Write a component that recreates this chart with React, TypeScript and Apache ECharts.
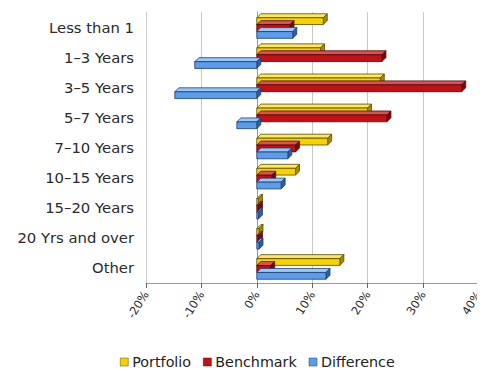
import React, { useEffect, useRef } from "react";
import * as echarts from "echarts";

const categories = [
  "Less than 1",
  "1–3 Years",
  "3–5 Years",
  "5–7 Years",
  "7–10 Years",
  "10–15 Years",
  "15–20 Years",
  "20 Yrs and over",
  "Other",
];
const portfolio = [12, 11.5, 22.3, 20, 12.8, 7, 0.3, 0.4, 15];
const benchmark = [6, 22.6, 37, 23.5, 7, 2.7, 0.3, 0.3, 2.5];
const difference = [6.5, -11.2, -14.8, -3.6, 5.6, 4.4, 0.3, 0.4, 12.5];
const xTicks = { min: -20, max: 40, interval: 10 };

const seriesDefs = [
  { name: "Portfolio", data: portfolio, front: "#f6d300", top: "#fbe865", side: "#a48c00", stroke: "#5a4a00" },
  { name: "Benchmark", data: benchmark, front: "#c40f14", top: "#de5054", side: "#780a0d", stroke: "#4a0a0a" },
  { name: "Difference", data: difference, front: "#5a9ded", top: "#9cc8f6", side: "#2d5fa3", stroke: "#1e3d6e" },
];

export default function App() {
  const ref = useRef<HTMLDivElement>(null);
  useEffect(() => {
    if (!ref.current) return;
    const chart = echarts.init(ref.current, null, { renderer: "svg" });
    const DX = 4;
    const DY = -4;
    const makeRender = (s: number) => (params: any, api: any) => {
      const val = api.value(0);
      const idx = api.value(1);
      const band = api.size([0, 1])[1];
      const h = band * 0.225;
      const p0 = api.coord([0, idx]);
      const p1 = api.coord([val, idx]);
      const def = seriesDefs[s];
      const yTop = p0[1] + (s - 1) * h * 1.02 - h / 2 + 1;
      const xa = Math.min(p0[0], p1[0]);
      const xb = Math.max(p0[0], p1[0]);
      const w = Math.max(xb - xa, 1.5);
      const xe = xa + w;
      const lw = 0.8;
      return {
        type: "group",
        children: [
          {
            type: "polygon",
            shape: { points: [[xa, yTop], [xa + DX, yTop + DY], [xe + DX, yTop + DY], [xe, yTop]] },
            style: { fill: def.top, stroke: def.stroke, lineWidth: lw },
          },
          {
            type: "polygon",
            shape: { points: [[xe, yTop], [xe + DX, yTop + DY], [xe + DX, yTop + h + DY], [xe, yTop + h]] },
            style: { fill: def.side, stroke: def.stroke, lineWidth: lw },
          },
          {
            type: "rect",
            shape: { x: xa, y: yTop, width: w, height: h },
            style: { fill: def.front, stroke: def.stroke, lineWidth: lw },
          },
        ],
      };
    };
    chart.setOption({
      animation: false,
      grid: { left: 146, right: 4, top: 12, bottom: 90, containLabel: false },
      legend: {
        top: 350,
        left: 115,
        itemWidth: 8,
        itemHeight: 8,
        itemGap: 12,
        icon: "rect",
        textStyle: { fontFamily: "DejaVu Sans", fontSize: 14.3, color: "#222", padding: [0, 0, 0, -1] },
        data: seriesDefs.map((d) => ({ name: d.name, itemStyle: { color: d.front, borderColor: d.stroke, borderWidth: 0.5 } })),
      },
      xAxis: {
        type: "value",
        min: xTicks.min,
        max: xTicks.max,
        interval: xTicks.interval,
        axisLine: { show: true, lineStyle: { color: "#999" } },
        axisTick: { show: true, lineStyle: { color: "#666" } },
        splitLine: { show: true, lineStyle: { color: "#c8c8c8" } },
        axisLabel: {
          rotate: 58,
          formatter: "{value}%",
          fontFamily: "DejaVu Sans",
          fontSize: 11.5,
          color: "#2a2a2a",
          margin: 9,
        },
      },
      yAxis: {
        type: "category",
        data: categories,
        inverse: true,
        axisLine: { show: true, lineStyle: { color: "#999" } },
        axisTick: { show: false },
        splitLine: { show: false },
        axisLabel: { fontFamily: "DejaVu Sans", fontSize: 14.8, color: "#2a2a2a", margin: 12 },
      },
      series: seriesDefs.map((d, s) => ({
        type: "custom",
        name: d.name,
        itemStyle: { color: d.front },
        renderItem: makeRender(s),
        encode: { x: 0, y: 1 },
        data: d.data.map((v, i) => [v, i]),
      })),
    });
    return () => chart.dispose();
  }, []);
  return <div ref={ref} style={{ width: 485, height: 373, margin: "-8px 0 0 -8px" }} />;
}
